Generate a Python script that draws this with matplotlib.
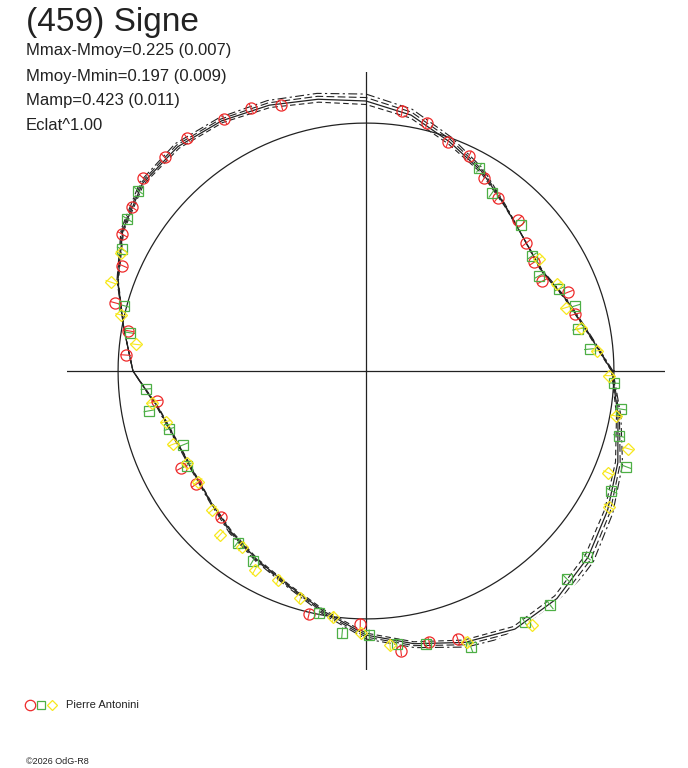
import numpy as np
import matplotlib
matplotlib.use("Agg")
import matplotlib.pyplot as plt
from matplotlib.lines import Line2D

plt.rcParams['font.family'] = ['Liberation Sans', 'DejaVu Sans']

# fitted polar lightcurve: relative flux (1 = mean) every 10 deg of phase
fit_deg = list(range(0, 360, 10))
fit_r = [0.992, 0.907, 0.855, 0.815, 0.831, 0.871, 0.931, 0.984, 1.048, 1.089,
         1.113, 1.141, 1.165, 1.181, 1.177, 1.133, 1.065, 0.992, 0.940, 0.851,
         0.815, 0.806, 0.819, 0.847, 0.879, 0.919, 0.984, 1.065, 1.117, 1.165,
         1.202, 1.198, 1.169, 1.125, 1.081, 1.032]
# spread of the alternative fits around the main one
fit_spread = [0.004, 0.004, 0.004, 0.004, 0.000, 0.004, 0.012, 0.020, 0.024, 0.028,
              0.024, 0.020, 0.016, 0.016, 0.012, 0.008, 0.004, 0.000, 0.000, 0.004,
              0.004, 0.004, 0.004, 0.008, 0.008, 0.008, 0.012, 0.016, 0.016, 0.020,
              0.024, 0.028, 0.028, 0.024, 0.020, 0.012]

# observations, phase (deg) and relative flux
red_deg = [107.7, 113.6, 119.4, 127.5, 133.3, 139.1, 145.0, 150.7, 156.6, 164.8,
           170.4, 176.2, 188.1, 207.7, 213.7, 225.1, 256.8, 268.7, 277.1, 283.1,
           288.9, 82.1, 76.2, 70.3, 64.4, 58.5, 52.8, 44.8, 38.6, 32.9,
           27.0, 21.3, 15.2]
red_r = [1.126, 1.156, 1.165, 1.183, 1.184, 1.188, 1.150, 1.127, 1.071, 1.048,
         0.972, 0.971, 0.850, 0.843, 0.824, 0.829, 1.008, 1.020, 1.137, 1.123,
         1.143, 1.060, 1.029, 0.982, 0.963, 0.914, 0.878, 0.865, 0.825, 0.807,
         0.798, 0.873, 0.875]

green_deg = [141.6, 147.5, 153.5, 164.9, 170.8, 184.7, 190.4, 196.4, 202.0, 207.8,
             233.2, 239.2, 259.1, 264.8, 270.7, 276.4, 282.4, 290.8, 302.3, 308.2,
             314.0, 319.9, 334.0, 339.8, 345.6, 351.5, 357.2, 5.6, 11.2, 17.3,
             23.0, 28.8, 34.7, 43.2, 54.7, 60.9]
green_r = [1.171, 1.141, 1.101, 1.012, 0.964, 0.890, 0.890, 0.828, 0.795, 0.818,
           0.864, 0.891, 0.993, 1.060, 1.065, 1.109, 1.128, 1.192, 1.200, 1.200,
           1.165, 1.163, 1.100, 1.117, 1.052, 1.038, 1.002, 0.906, 0.870, 0.885,
           0.847, 0.798, 0.816, 0.860, 0.879, 0.938]

yellow_deg = [154.4, 160.8, 167.1, 173.4, 188.4, 194.2, 200.8, 207.1, 213.3, 222.1,
              228.3, 234.7, 240.8, 247.2, 253.9, 262.4, 268.8, 275.0, 290.4, 303.1,
              330.8, 337.2, 343.5, 349.8, 358.9, 5.0, 11.3, 17.6, 24.4, 33.0]
yellow_r = [1.097, 1.090, 1.015, 0.935, 0.871, 0.832, 0.833, 0.812, 0.812, 0.835,
            0.885, 0.868, 0.919, 0.914, 0.954, 1.000, 1.056, 1.109, 1.165, 1.223,
            1.121, 1.060, 1.103, 1.024, 0.981, 0.936, 0.884, 0.846, 0.847, 0.830]

obs_err = 0.022

title = "(459) Signe"
info_lines = ["Mmax-Mmoy=0.225 (0.007)", "Mmoy-Mmin=0.197 (0.009)",
              "Mamp=0.423 (0.011)", "Eclat^1.00"]
observer = "Pierre Antonini"
footer = "\u00a92026 OdG-R8"

RED = '#ee2a2a'
GREEN = '#4daf45'
YELLOW = '#f7e81c'
INK = '#222222'

W, H = 688, 768
fig = plt.figure(figsize=(W / 100, H / 100), dpi=100)
rmax = 1.206
ax = fig.add_axes([67 / W, (H - 670) / H, 598 / W, 598 / H], projection='polar')
ax.set_ylim(0, rmax)
ax.grid(False)
ax.set_xticks([])
ax.set_yticks([])
ax.spines['polar'].set_visible(False)
ax.patch.set_alpha(0)

# axes cross
for a in (0, 90, 180, 270):
    ax.plot([np.deg2rad(a)] * 2, [0, rmax], color=INK, lw=0.9)

# reference circle (mean flux)
circ_t = np.deg2rad(np.arange(0, 361, 2))
ax.plot(circ_t, np.ones_like(circ_t), color=INK, lw=0.9)

# fitted curves
t = np.deg2rad(fit_deg + [360])
r = np.array(fit_r + fit_r[:1])
s = np.array(fit_spread + fit_spread[:1])
ax.plot(t, r, color=INK, lw=0.9)
ax.plot(t, r + s, color=INK, lw=0.8, ls=(0, (8, 3, 2, 3)))
ax.plot(t, r + 0.5 * s, color=INK, lw=0.8, ls=(0, (7, 3)))
ax.plot(t, r - 0.5 * s, color=INK, lw=0.8, ls=(0, (5, 3)))

# observations
for deg, rr, mk, ms, col in [(red_deg, red_r, 'o', 8.0, RED),
                             (green_deg, green_r, 's', 6.5, GREEN),
                             (yellow_deg, yellow_r, 'D', 6.0, YELLOW)]:
    eb = ax.errorbar(np.deg2rad(deg), rr, yerr=obs_err, fmt=mk, ms=ms,
                     mfc='none', mec=col, mew=0.9, ecolor=col,
                     elinewidth=0.8, capsize=0)
    for art in eb.get_children():
        art.set_clip_on(False)

# texts
fig.text(26 / W, 1 - 22 / H, title, fontsize=24, color=INK, va='center')
for i, line in enumerate(info_lines):
    fig.text(26 / W, 1 - (51 + 25 * i) / H, line, fontsize=12, color=INK, va='center')

# legend
for x, mk, ms, col in [(30, 'o', 7.5, RED), (41, 's', 6.2, GREEN), (52, 'D', 5.5, YELLOW)]:
    fig.add_artist(Line2D([x / W], [1 - 705 / H], transform=fig.transFigure,
                          marker=mk, ms=ms, mfc='none', mec=col, mew=0.9, ls='none'))
fig.text(66 / W, 1 - 705 / H, observer, fontsize=8, color=INK, va='center')
fig.text(26 / W, 1 - 762 / H, footer, fontsize=6.5, color=INK, va='center')

fig.savefig('out.png', dpi=100)
